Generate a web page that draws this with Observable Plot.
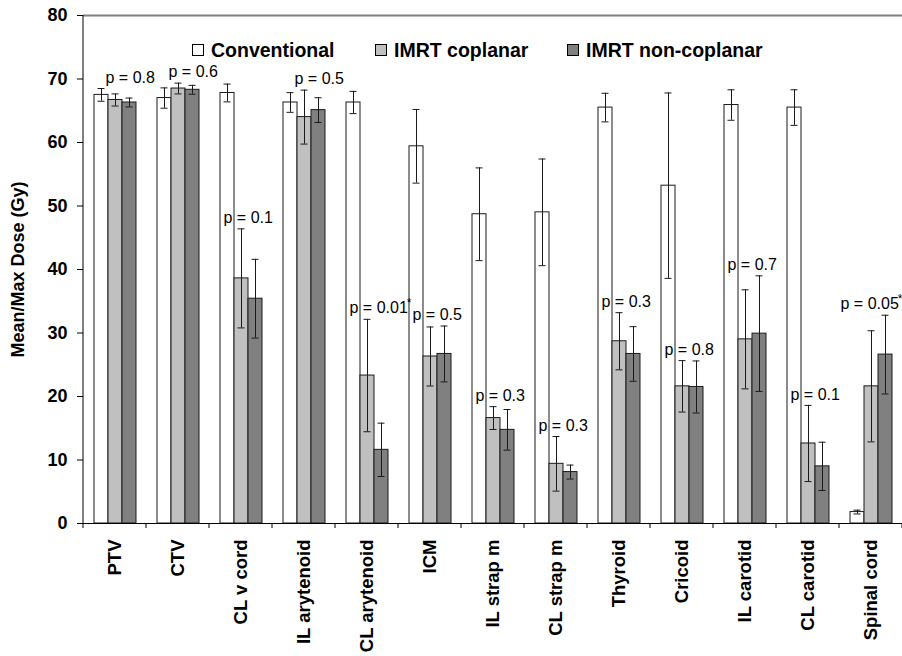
<!DOCTYPE html>
<html><head><meta charset="utf-8">
<script src="https://cdn.jsdelivr.net/npm/d3@7"></script>
<script src="https://cdn.jsdelivr.net/npm/@observablehq/plot@0.6"></script>
<style>
body{margin:0;background:#fff;font-family:"Liberation Sans",Arial,sans-serif;}
#wrap{position:relative;width:902px;height:656px;}
.leg{position:absolute;top:39px;height:22px;font-weight:bold;font-size:19.5px;display:flex;align-items:center;white-space:nowrap;color:#000;}
.sw{width:10px;height:10px;border:1px solid #000;margin-right:7px;flex:none;}
</style></head>
<body><div id="wrap"></div>
<script>
const categories = ["PTV","CTV","CL v cord","IL arytenoid","CL arytenoid","ICM","IL strap m","CL strap m","Thyroid","Cricoid","IL carotid","CL carotid","Spinal cord"];
const series = ["Conventional","IMRT coplanar","IMRT non-coplanar"];
const seriesColors = ["#ffffff","#c0c0c0","#808080"];
const conventional    = [67.5, 67.0, 67.8, 66.3, 66.3, 59.4, 48.7, 49.0, 65.5, 53.2, 65.9, 65.5, 1.8];
const conventionalErr = [1.0, 1.6, 1.4, 1.55, 1.75, 5.8, 7.3, 8.4, 2.25, 14.6, 2.4, 2.8, 0.3];
const coplanar        = [66.7, 68.5, 38.6, 64.0, 23.3, 26.3, 16.6, 9.4, 28.7, 21.6, 29.0, 12.6, 21.6];
const coplanarErr     = [0.95, 0.85, 7.8, 4.25, 8.85, 4.65, 1.8, 4.3, 4.5, 4.05, 7.8, 6.0, 8.75];
const nonCoplanar     = [66.3, 68.3, 35.4, 65.1, 11.6, 26.7, 14.75, 8.1, 26.7, 21.5, 29.9, 9.0, 26.6];
const nonCoplanarErr  = [0.7, 0.7, 6.2, 1.95, 4.2, 4.4, 3.2, 1.1, 4.3, 4.1, 9.1, 3.8, 6.2];
const pValues = ["0.8","0.6","0.1","0.5","0.01","0.5","0.3","0.3","0.3","0.8","0.7","0.1","0.05"];
const significant = [false,false,false,false,true,false,false,false,false,false,false,false,true];
const yTicks = [0,10,20,30,40,50,60,70,80];

const valueSets = [conventional, coplanar, nonCoplanar];
const errSets = [conventionalErr, coplanarErr, nonCoplanarErr];
const rows = [];
categories.forEach((c, i) => series.forEach((s, j) => rows.push({cat: c, series: s, value: valueSets[j][i], err: errSets[j][i]})));

const pRows = categories.map((c, i) => {
  const hi = j => valueSets[j][i] + errSets[j][i];
  const top = Math.abs(conventional[i] - coplanar[i]) < 5;
  return {
    cat: c, label: "p = " + pValues[i], star: significant[i],
    y: top ? Math.max(hi(0), hi(1), hi(2)) : Math.max(hi(1), hi(2)),
    group: top ? "top" : (i === categories.length - 1 ? "last" : "mid")
  };
});

const textOpts = (dx) => ({fx: "cat", x: () => "IMRT coplanar", y: "y", text: "label", textAnchor: "start", dx, dy: -11, fontWeight: "normal", fontSize: 16, fill: "#000"});

const plot = Plot.plot({
  width: 902, height: 656,
  marginLeft: 82, marginRight: 0, marginTop: 15, marginBottom: 133,
  style: {fontFamily: "'Liberation Sans', Arial, sans-serif", fontSize: "18px", fontWeight: "bold", background: "#fff", color: "#000", overflow: "visible"},
  fx: {domain: categories, paddingInner: 0, paddingOuter: 0, label: null},
  x: {domain: series, paddingInner: 0, paddingOuter: 0.71, axis: null},
  y: {domain: [0, 80], axis: null},
  color: {domain: series, range: seriesColors},
  marks: [
    Plot.ruleY([80], {stroke: "#808080", strokeWidth: 2}),
    Plot.barY(rows, {fx: "cat", x: "series", y: "value", fill: "series", stroke: "#1a1a1a", strokeWidth: 1}),
    Plot.ruleX(rows, {fx: "cat", x: "series", y1: d => d.value - d.err, y2: d => d.value + d.err, stroke: "#1a1a1a"}),
    Plot.tickY(rows, {fx: "cat", x: "series", y: d => d.value - d.err, insetLeft: 3.5, insetRight: 3.5, stroke: "#1a1a1a"}),
    Plot.tickY(rows, {fx: "cat", x: "series", y: d => d.value + d.err, insetLeft: 3.5, insetRight: 3.5, stroke: "#1a1a1a"}),
    Plot.ruleY([0], {stroke: "#000"}),
    Plot.axisY({ticks: yTicks, tickSize: 6, tickPadding: 10, tickFormat: d => d, label: "Mean/Max Dose (Gy)", labelArrow: false, labelAnchor: "center", labelOffset: 72, fontSize: 18}),
    Plot.axisFx({anchor: "bottom", tickRotate: -90, tickSize: 0, tickPadding: 16, label: null, fontSize: 18.5}),
    Plot.text(pRows.filter(d => d.group === "top"), textOpts(-10)),
    Plot.text(pRows.filter(d => d.group === "mid"), textOpts(-18)),
    Plot.text(pRows.filter(d => d.group === "last"), textOpts(-31))
  ]
});

const wrap = document.getElementById("wrap");
wrap.appendChild(plot);

// axis line on the left and category boundary ticks, from the plot's own scales
const svg = d3.select(plot);
const ys = plot.scale("y"), fxs = plot.scale("fx");
const y0 = ys.apply(0), y80 = ys.apply(80);
const x0 = fxs.apply(categories[0]);
const extra = svg.append("g").attr("stroke", "#000").attr("stroke-width", 1);
extra.append("line").attr("x1", x0).attr("x2", x0).attr("y1", y80).attr("y2", y0);
const bounds = categories.map(c => fxs.apply(c)).concat([fxs.apply(categories[categories.length-1]) + fxs.bandwidth]);
bounds.forEach(b => extra.append("line").attr("x1", b).attr("x2", b).attr("y1", y0).attr("y2", y0 + 5));

// significance asterisks
const starred = new Set(pRows.filter(d => d.star).map(d => d.label));
svg.selectAll("text").each(function() {
  if (this.childElementCount === 0 && starred.has(this.textContent)) {
    d3.select(this).append("tspan").attr("dx", "-1").attr("dy", "-0.55em").attr("font-size", "12px").text("*");
  }
});

// legend
const legLefts = [192, 375, 567];
series.forEach((s, i) => {
  const item = document.createElement("div");
  item.className = "leg";
  item.style.left = legLefts[i] + "px";
  const sw = document.createElement("span");
  sw.className = "sw";
  sw.style.background = seriesColors[i];
  item.appendChild(sw);
  item.appendChild(document.createTextNode(s));
  wrap.appendChild(item);
});
</script></body></html>
